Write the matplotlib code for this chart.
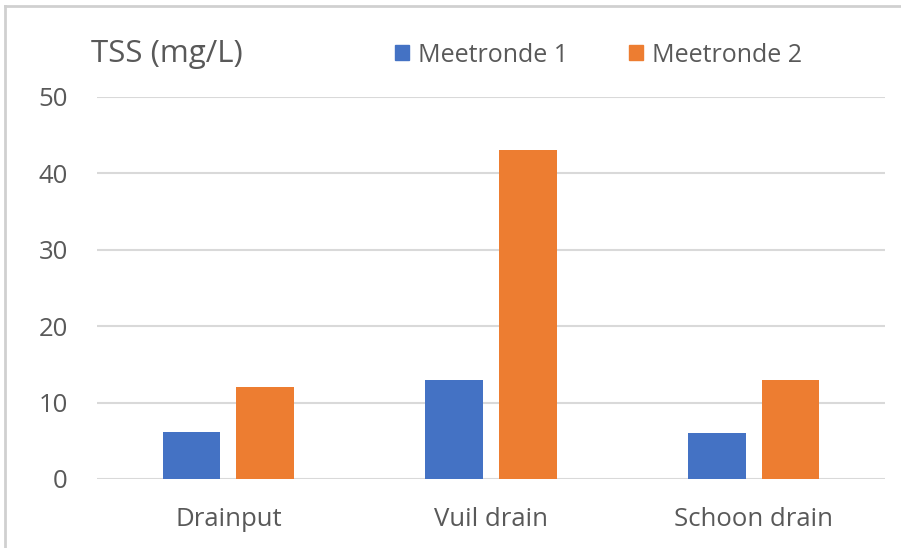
import matplotlib
matplotlib.use("Agg")
import matplotlib.pyplot as plt
import numpy as np
from matplotlib.patches import Patch
from matplotlib.lines import Line2D

plt.rcParams['font.family'] = ['Open Sans', 'DejaVu Sans']

# data
categories = ["Drainput", "Vuil drain", "Schoon drain"]
meetronde_1 = [6.1, 13, 6]
meetronde_2 = [12, 43, 13]
series_names = ["Meetronde 1", "Meetronde 2"]
colors = ["#4472C4", "#ED7D31"]
yticks = [0, 10, 20, 30, 40, 50]

fig = plt.figure(figsize=(9.01, 5.48), dpi=100)
ax = fig.add_axes([97/901, 1 - 479/548, (885 - 97)/901, (479 - 97)/548])

x = np.arange(len(categories))
w = 0.22
ax.bar(x - 0.14, meetronde_1, w, color=colors[0], zorder=3)
ax.bar(x + 0.14, meetronde_2, w, color=colors[1], zorder=3)

ax.set_xlim(-0.5, len(categories) - 0.5)
ax.set_ylim(0, 50)
ax.set_yticks(yticks)
ax.set_xticks(x)
ax.set_xticklabels(categories)
ax.grid(axis='y', color='#d9d9d9', linewidth=1.5, zorder=0)
for s in ax.spines.values():
    s.set_visible(False)
ax.tick_params(length=0, labelsize=18.5, labelcolor='#595959')
ax.tick_params(axis='y', pad=21)
ax.tick_params(axis='x', pad=20)

# axis title as text in the top left
fig.text(91/901, 1 - 54/548, "TSS (mg/L)", fontsize=22.5, color='#595959', va='center', ha='left')

handles = [Patch(color=c) for c in colors]
fig.legend(handles, series_names, loc='center left', bbox_to_anchor=(390/901, 1 - 55/548),
           ncol=2, frameon=False, fontsize=18, labelcolor='#595959',
           handlelength=0.56, handleheight=0.56, handletextpad=0.36, columnspacing=2.45,
           borderaxespad=0, borderpad=0.2)

# outer frame (left and top edges visible)
fig.add_artist(Line2D([5/901, 5/901], [0, 1 - 6/548], color='#d0d0d0', linewidth=2, transform=fig.transFigure))
fig.add_artist(Line2D([5/901, 1], [1 - 6/548, 1 - 6/548], color='#d0d0d0', linewidth=2, transform=fig.transFigure))

fig.savefig("out.png", dpi=100)
